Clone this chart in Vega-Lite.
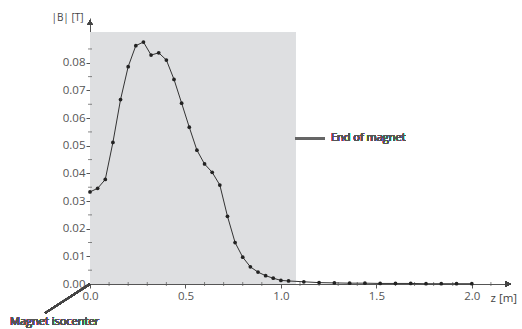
{
  "$schema": "https://vega.github.io/schema/vega-lite/v6.json",
  "width": 420,
  "height": 266,
  "autosize": {"type": "none"},
  "padding": {"left": 90, "top": 18, "right": 12, "bottom": 45},
  "background": "white",
  "config": {
    "view": {"stroke": null},
    "font": "Open Sans",
    "axis": {
      "domainColor": "#555",
      "tickColor": "#555",
      "labelColor": "#555",
      "labelFontSize": 11.5,
      "titleColor": "#444",
      "titleFontSize": 11,
      "titleFontWeight": "normal",
      "labelOverlap": false,
      "grid": false
    },
    "axisY": {"labelOverlap": false}
  },
  "datasets": {
    "field": [
      {"z": 0.00, "B": 0.0333},
      {"z": 0.04, "B": 0.0346},
      {"z": 0.08, "B": 0.0378},
      {"z": 0.12, "B": 0.0512},
      {"z": 0.16, "B": 0.0667},
      {"z": 0.20, "B": 0.0786},
      {"z": 0.24, "B": 0.0862},
      {"z": 0.28, "B": 0.0875},
      {"z": 0.32, "B": 0.0828},
      {"z": 0.36, "B": 0.0836},
      {"z": 0.40, "B": 0.0810},
      {"z": 0.44, "B": 0.0740},
      {"z": 0.48, "B": 0.0654},
      {"z": 0.52, "B": 0.0567},
      {"z": 0.56, "B": 0.0484},
      {"z": 0.60, "B": 0.0434},
      {"z": 0.64, "B": 0.0404},
      {"z": 0.68, "B": 0.0358},
      {"z": 0.72, "B": 0.0245},
      {"z": 0.76, "B": 0.0150},
      {"z": 0.80, "B": 0.0097},
      {"z": 0.84, "B": 0.0062},
      {"z": 0.88, "B": 0.0043},
      {"z": 0.92, "B": 0.0030},
      {"z": 0.96, "B": 0.0021},
      {"z": 1.00, "B": 0.0013},
      {"z": 1.04, "B": 0.0011},
      {"z": 1.12, "B": 0.0008},
      {"z": 1.20, "B": 0.0005},
      {"z": 1.28, "B": 0.0004},
      {"z": 1.36, "B": 0.0003},
      {"z": 1.44, "B": 0.0003},
      {"z": 1.52, "B": 0.0002},
      {"z": 1.60, "B": 0.0002},
      {"z": 1.68, "B": 0.0002},
      {"z": 1.76, "B": 0.0001},
      {"z": 1.84, "B": 0.0001},
      {"z": 1.92, "B": 0.0001},
      {"z": 2.00, "B": 0.0001}
    ],
    "xminor": [
      {"t": 0.1}, {"t": 0.2}, {"t": 0.3}, {"t": 0.4},
      {"t": 0.6}, {"t": 0.7}, {"t": 0.8}, {"t": 0.9},
      {"t": 1.1}, {"t": 1.2}, {"t": 1.3}, {"t": 1.4},
      {"t": 1.6}, {"t": 1.7}, {"t": 1.8}, {"t": 1.9}, {"t": 2.1}
    ],
    "yminor": [
      {"t": 0.005}, {"t": 0.015}, {"t": 0.025}, {"t": 0.035}, {"t": 0.045},
      {"t": 0.055}, {"t": 0.065}, {"t": 0.075}, {"t": 0.085}
    ]
  },
  "data": {"name": "field"},
  "layer": [
    {
      "mark": {"type": "rect", "fill": "#dedfe1"},
      "encoding": {
        "x": {
          "datum": 0, "type": "quantitative",
          "scale": {"domain": [0, 2.2], "nice": false, "zero": false},
          "axis": {
            "title": "z [m]",
            "titleAnchor": "start",
            "titleAlign": "left",
            "titleBaseline": "alphabetic",
            "titleX": 400,
            "titleY": 17,
            "titleFontSize": 11.5,
            "values": [0, 0.5, 1, 1.5, 2],
            "format": ".1f",
            "tickSize": 4,
            "labelOverlap": false,
            "labelPadding": 2,
            "labelFlush": false
          }
        },
        "x2": {"datum": 1.077},
        "y": {
          "datum": 0, "type": "quantitative",
          "scale": {"domain": [0, 0.0962], "nice": false, "zero": false},
          "axis": {
            "title": "|B| [T]",
            "titleAngle": 0,
            "titleAlign": "right",
            "titleBaseline": "middle",
            "titleX": -7,
            "titleY": -1,
            "titleFontSize": 10,
            "tickCount": 10,
            "labelExpr": "datum.value > 0.085 ? '' : format(datum.value, '.2f')",
            "tickSize": {"condition": {"test": "datum.value > 0.085", "value": 0}, "value": 4},
            "labelOverlap": false,
            "labelPadding": 1,
            "labelFlush": false
          }
        },
        "y2": {"datum": 0.091}
      }
    },
    {
      "data": {"name": "xminor"},
      "mark": {"type": "tick", "orient": "vertical", "size": 4, "thickness": 1, "color": "#555"},
      "encoding": {
        "x": {"field": "t", "type": "quantitative"},
        "y": {"datum": 0}
      }
    },
    {
      "data": {"name": "yminor"},
      "mark": {"type": "tick", "orient": "horizontal", "size": 4, "thickness": 1, "color": "#555"},
      "encoding": {
        "y": {"field": "t", "type": "quantitative"},
        "x": {"datum": 0}
      }
    },
    {
      "mark": {"type": "line", "stroke": "#333", "strokeWidth": 1, "point": {"filled": true, "size": 14, "fill": "#222"}},
      "encoding": {
        "x": {"field": "z", "type": "quantitative"},
        "y": {"field": "B", "type": "quantitative"}
      }
    },
    {
      "mark": {"type": "rule", "stroke": "#666", "strokeWidth": 2},
      "encoding": {
        "x": {"datum": 1.077},
        "x2": {"datum": 1.23},
        "y": {"datum": 0.0527}
      }
    },
    {
      "mark": {"type": "text", "align": "left", "baseline": "middle", "font": "Open Sans", "fontSize": 11, "fontWeight": "normal", "fill": "#555"},
      "encoding": {
        "x": {"datum": 1.262},
        "y": {"datum": 0.0527},
        "text": {"value": "End of magnet"}
      }
    },
    {
      "mark": {"type": "rule", "stroke": "#444", "strokeWidth": 1.5},
      "encoding": {
        "x": {"datum": 0},
        "x2": {"datum": -0.236},
        "y": {"datum": 0},
        "y2": {"datum": -0.0105}
      }
    },
    {
      "mark": {"type": "text", "align": "left", "baseline": "middle", "font": "Open Sans", "fontSize": 11, "fontWeight": "normal", "fill": "#555"},
      "encoding": {
        "x": {"datum": -0.419},
        "y": {"datum": -0.0139},
        "text": {"value": "Magnet isocenter"}
      }
    },
    {
      "mark": {"type": "point", "shape": "triangle-up", "filled": true, "size": 30, "fill": "#444", "opacity": 1},
      "encoding": {
        "x": {"datum": 0},
        "y": {"datum": 0.0945}
      }
    },
    {
      "mark": {"type": "point", "shape": "triangle-right", "filled": true, "size": 30, "fill": "#444", "opacity": 1},
      "encoding": {
        "x": {"datum": 2.19},
        "y": {"datum": 0}
      }
    }
  ]
}
